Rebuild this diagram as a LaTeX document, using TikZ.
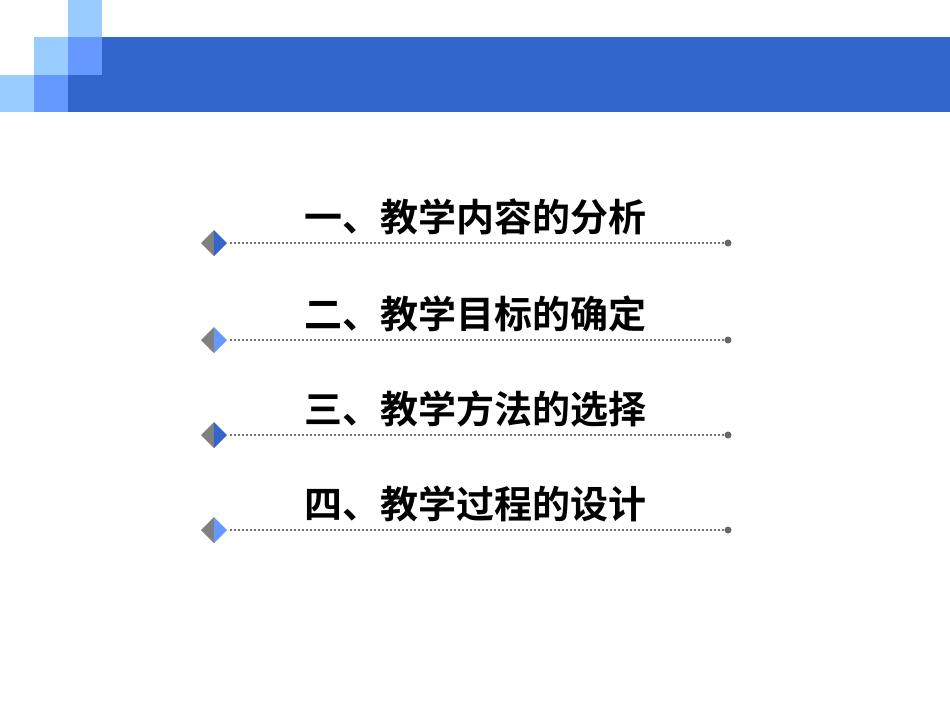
\documentclass[tikz,border=0pt]{standalone}
\usepackage{fontspec}
\newfontfamily\cjk{Noto Sans CJK SC Bold}
\definecolor{lb}{HTML}{99CCFF}
\definecolor{mb}{HTML}{6699FF}
\definecolor{db}{HTML}{3366CC}
\definecolor{gr}{HTML}{808080}
\begin{document}
\begin{tikzpicture}[x=1pt,y=-1pt,
  ttl/.style={font=\cjk\fontsize{38}{40}\selectfont, anchor=center},
  dotline/.style={gr!90!black, line width=2pt, dash pattern=on 2pt off 2pt}]
\useasboundingbox (0,0) rectangle (950,713);
\fill[white] (0,0) rectangle (950,713);
\fill[db] (102,37) rectangle (950,75);
\fill[db] (68,75) rectangle (950,112);
\fill[lb] (68,0) rectangle (102,37);
\fill[lb] (34,37) rectangle (68,75);
\fill[mb] (68,37) rectangle (102,75);
\fill[lb] (0,75) rectangle (34,112);
\fill[mb] (34,75) rectangle (68,112);
\foreach \y/\t/\c [count=\i] in {243/{一、教学内容的分析}/db, 340/{二、教学目标的确定}/mb, 435/{三、教学方法的选择}/db, 530/{四、教学过程的设计}/mb}{
  \fill[gr] (201,\y) -- (214,\y-13) -- (214,\y+13) -- cycle;
  \fill[\c] (227,\y) -- (214,\y-13) -- (214,\y+13) -- cycle;
  \coordinate (s\i) at (230,\y);
  \coordinate (e\i) at (728,\y);
  \draw[dotline] (s\i) -- (e\i);
  \fill[gr!80!black] (e\i) circle (3.5);
  \node[ttl] (t\i) at (475,\y-26) {\t};
}
\end{tikzpicture}
\end{document}
